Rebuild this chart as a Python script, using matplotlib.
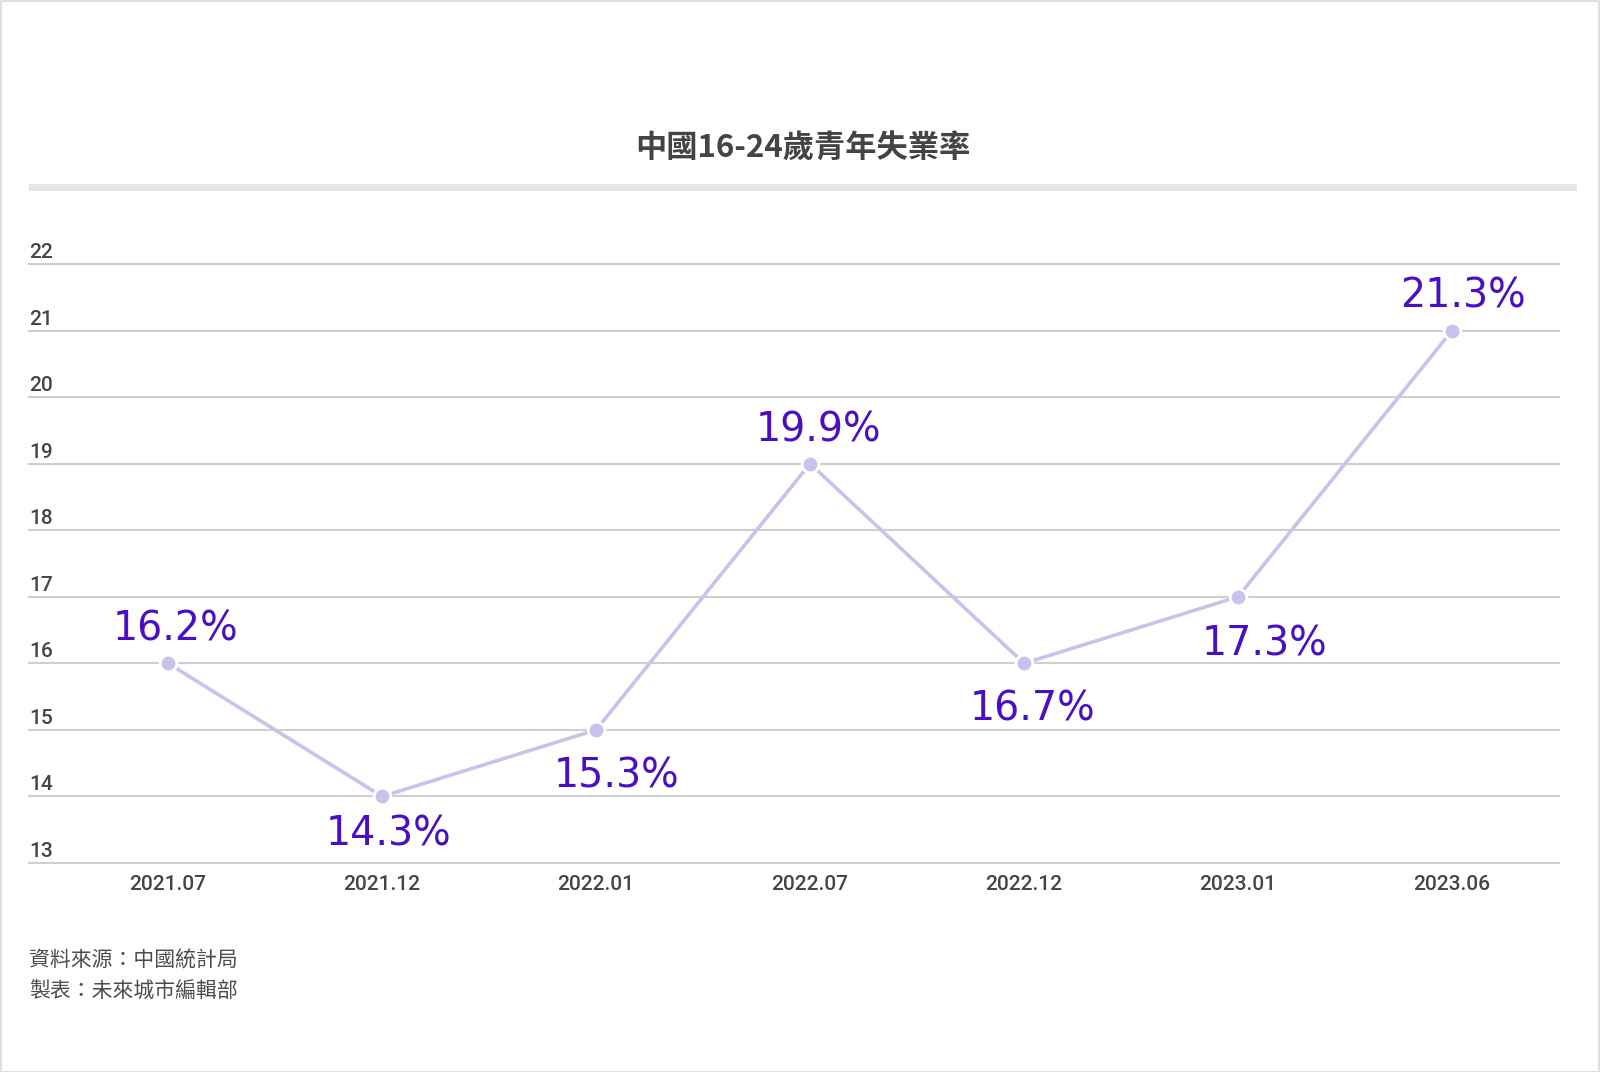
import matplotlib
matplotlib.use("Agg")
import matplotlib.pyplot as plt
from matplotlib.patches import Rectangle

# ---- data ----
categories = ["2021.07", "2021.12", "2022.01", "2022.07", "2022.12", "2023.01", "2023.06"]
plotted_values = [16, 14, 15, 19, 16, 17, 21]
value_labels = ["16.2%", "14.3%", "15.3%", "19.9%", "16.7%", "17.3%", "21.3%"]
yticks = [13, 14, 15, 16, 17, 18, 19, 20, 21, 22]
title = "中國16-24歲青年失業率"
footer_lines = ["資料來源：中國統計局", "製表：未來城市編輯部"]

# label offsets (pixels) - styling only
label_offsets = [(7, 34), (6, -38), (20, -47), (8, 33), (9, -46), (27, -48), (11, 34)]

W, H = 1600, 1072
DPI = 100
fig = plt.figure(figsize=(W / DPI, H / DPI), dpi=DPI)
fig.patch.set_facecolor("white")

CJK = ["Noto Sans CJK TC", "DejaVu Sans"]
ROB = ["Roboto", "DejaVu Sans"]
TXT = "#444444"

# outer border
fig.patches.append(Rectangle((0.5 / W, 0.5 / H), 1 - 1.5 / W, 1 - 1.5 / H,
                             transform=fig.transFigure, fill=False,
                             edgecolor="#d8d8d8", linewidth=1.2))

# title
fig.text(803 / W, 1 - 149 / H, title, ha="center", va="center",
         fontsize=22.5, fontweight="bold", color=TXT, family=CJK)

# gray bar under title
fig.patches.append(Rectangle((29 / W, 1 - 191 / H), (1577 - 29) / W, 7 / H,
                             transform=fig.transFigure, facecolor="#e6e6e6",
                             edgecolor="none"))

# axes
left, right = 29, 1559
top, bottom = 264, 863
ax = fig.add_axes([left / W, 1 - bottom / H, (right - left) / W, (bottom - top) / H])
ax.set_xlim(-0.65, 6.5)
ax.set_ylim(yticks[0], yticks[-1])
for s in ax.spines.values():
    s.set_visible(False)
ax.set_yticks([])
for t in yticks:
    ax.axhline(t, color="#cfcfcf", linewidth=1.5, zorder=1, clip_on=False)
    ax.annotate(str(t), xy=(0, t), xycoords=ax.get_yaxis_transform(),
                xytext=(0, 6), textcoords="offset pixels",
                ha="left", va="baseline", fontsize=15, color=TXT,
                family=ROB, fontweight="medium", annotation_clip=False)

xs = list(range(len(categories)))
ax.set_xticks(xs)
ax.set_xticklabels(categories, fontsize=15, color=TXT,
                   family=ROB, fontweight="medium")
ax.tick_params(axis="x", length=0, pad=9)

ax.plot(xs, plotted_values, color="#c9c3ea", linewidth=2.6, zorder=3,
        marker="o", markersize=12, markerfacecolor="#c9c3ea",
        markeredgecolor="white", markeredgewidth=2, clip_on=False)

for x, v, lab, (dx, dy) in zip(xs, plotted_values, value_labels, label_offsets):
    ax.annotate(lab, xy=(x, v), xytext=(dx, dy), textcoords="offset pixels",
                ha="center", va="center", fontsize=28.5, color="#4a0ec6",
                family="DejaVu Sans", zorder=4, annotation_clip=False)

# footer
fig.text(29 / W, 1 - 961 / H, footer_lines[0], ha="left", va="center",
         fontsize=15, color="#4d4d4d", family=CJK, fontweight="medium")
fig.text(29 / W, 1 - 992 / H, footer_lines[1], ha="left", va="center",
         fontsize=15, color="#4d4d4d", family=CJK, fontweight="medium")

fig.savefig("out.png", dpi=DPI, facecolor="white")
